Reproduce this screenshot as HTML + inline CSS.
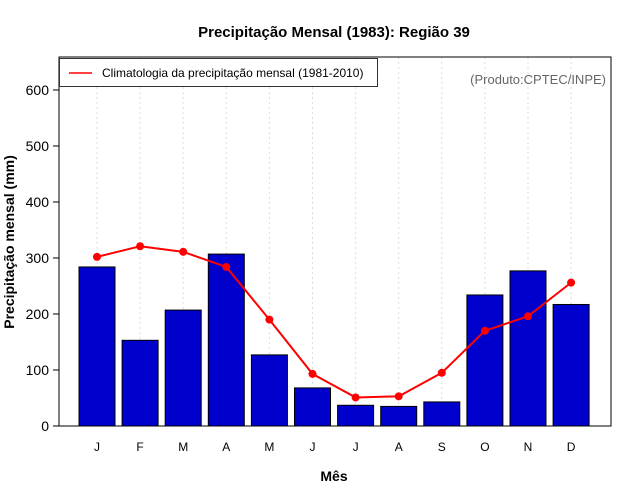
<!DOCTYPE html>
<html><head><meta charset="utf-8"><style>body{margin:0;background:#fff}svg{display:block;font-family:"Liberation Sans",sans-serif}</style></head>
<body>
<svg id="c" width="640" height="500"></svg>
<script>
const months=["J","F","M","A","M","J","J","A","S","O","N","D"];
const observed=[284,153,207,307,127,68,37,35,43,234,277,217];
const climatology=[302,321,311,284,190,93,51,53,95,170,196,256];
const yTicks=[0,100,200,300,400,500,600];
const NS="http://www.w3.org/2000/svg";
const svg=document.getElementById('c');
const L=59,R=611,T=57,B=426;
const y=v=>426-v*0.56;
const x=i=>97+i*43.1;
function mk(t,a,txt){const el=document.createElementNS(NS,t);for(const k in a)el.setAttribute(k,a[k]);if(txt!=null)el.textContent=txt;svg.appendChild(el);return el;}
let e;
e=mk('text',{x:334,y:37,'text-anchor':'middle','font-size':15,'font-weight':'bold'},'Precipitação Mensal (1983): Região 39');


months.forEach((m,i)=>{
 e=mk('line',{x1:x(i),x2:x(i),y1:T,y2:B,stroke:'#ddd','stroke-dasharray':'2,3'});
 
 
});
observed.forEach((v,i)=>{
 e=mk('rect',{x:x(i)-18,y:y(v),width:36,height:B-y(v),fill:'#0000cd',stroke:'#000','stroke-width':1});
 
 
 e=mk('text',{x:x(i),y:451,'text-anchor':'middle','font-size':12},months[i]);
 
 
});
e=mk('polyline',{points:climatology.map((v,i)=>x(i)+','+y(v)).join(' '),fill:'none',stroke:'#f00','stroke-width':2});


climatology.forEach((v,i)=>{
 e=mk('circle',{cx:x(i),cy:y(v),r:4,fill:'#f00'});
 
 
});
yTicks.forEach(t=>{
 e=mk('line',{x1:L-6,x2:L,y1:y(t),y2:y(t),stroke:'#000'});
 
 
 e=mk('text',{x:L-10,y:y(t)+5,'text-anchor':'end','font-size':14},t);
 
 
});
e=mk('rect',{x:L,y:T,width:R-L,height:B-T,fill:'none',stroke:'#000'});


e=mk('rect',{x:59.5,y:58.5,width:318,height:28,fill:'#fff',stroke:'#333'});


e=mk('line',{x1:69,x2:92,y1:73,y2:73,stroke:'#f00','stroke-width':1.5});


e=mk('text',{x:102,y:77,'font-size':12},'Climatologia da precipitação mensal (1981-2010)');


e=mk('text',{x:606,y:84,'text-anchor':'end','font-size':13,fill:'#666'},'(Produto:CPTEC/INPE)');


e=mk('text',{x:334,y:481,'text-anchor':'middle','font-size':14,'font-weight':'bold'},'Mês');


e=mk('text',{x:0,y:0,'text-anchor':'middle','font-size':14,'font-weight':'bold',transform:'translate(14,242) rotate(-90)'},'Precipitação mensal (mm)');


</script>
</body></html>
